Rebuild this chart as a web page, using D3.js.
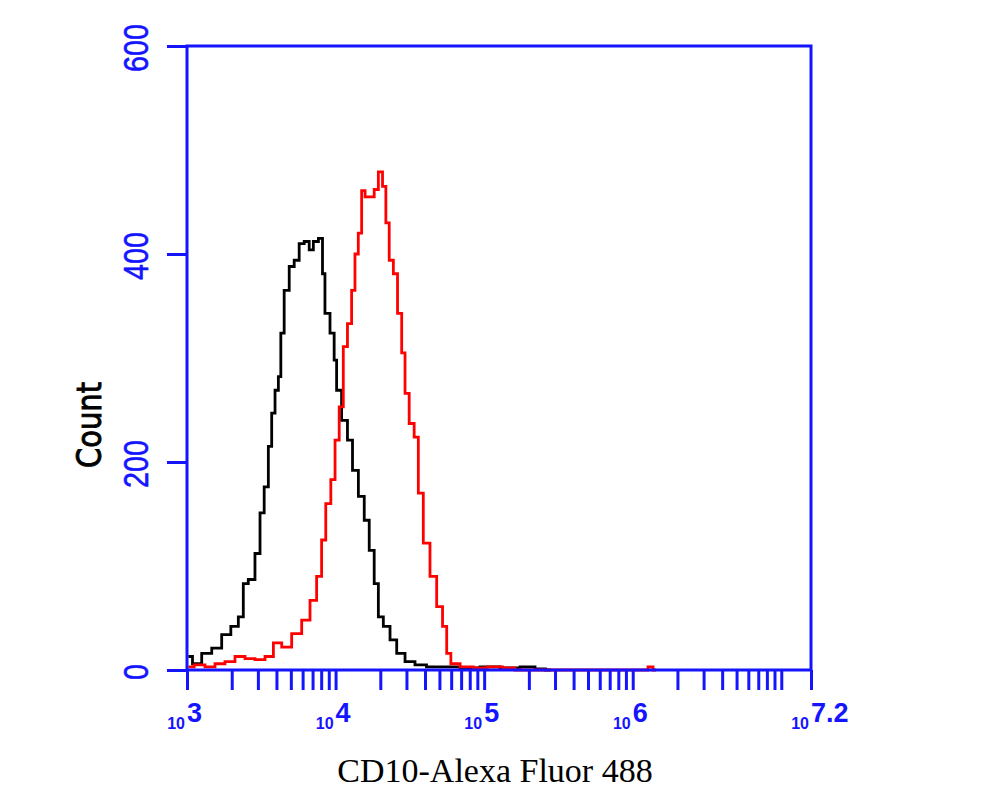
<!DOCTYPE html>
<html>
<head>
<meta charset="utf-8">
<script src="https://cdn.jsdelivr.net/npm/d3@7"></script>
<style>
  html, body { margin: 0; padding: 0; background: #fff; }
  svg { display: block; }
</style>
</head>
<body>
<svg id="chart" width="1000" height="800"></svg>
<script>
// ---- data (log10 of intensity, count) ----
const blackLog = [3.009,3.065,3.133,3.200,3.267,3.323,3.368,3.390,3.435,3.480,3.503,3.536,3.559,3.581,3.604,3.626,3.637,3.671,3.705,3.738,3.772,3.806,3.839,3.862,3.907,3.917,3.940,3.985,3.996,4.018,4.063,4.097,4.131,4.176,4.210,4.243,4.277,4.299,4.344,4.389,4.434,4.501,4.568,4.656,4.770,4.905,5.039,5.174,5.309,5.376,5.45];
const blackCount = [13,6,16,21,34,42,51,83,87,112,151,176,215,247,269,282,324,365,388,394,410,412,404,412,415,381,343,324,298,269,240,221,192,167,144,115,83,51,42,29,16,8,5,3,3,2,3,2,3,1,0];

const redLog = [3.009,3.087,3.155,3.222,3.289,3.357,3.424,3.491,3.559,3.604,3.671,3.738,3.806,3.850,3.895,3.917,3.951,3.985,4.008,4.041,4.063,4.097,4.119,4.142,4.164,4.187,4.210,4.243,4.277,4.299,4.333,4.344,4.378,4.400,4.434,4.456,4.479,4.512,4.546,4.568,4.613,4.658,4.703,4.737,4.759,4.793,4.883,4.972,5.073,5.174,5.241,6.09,6.116,6.157];
const redCount = [3,5,3,6,8,13,11,10,13,26,22,35,48,67,90,125,160,183,221,253,311,333,365,400,420,461,455,455,462,479,465,430,394,381,343,305,266,237,224,170,122,90,61,42,16,6,3,2,3,2,0,0,3,0];

const yTicks = [0, 200, 400, 600];
const xDecades = [3, 4, 5, 6];
const xLabelExps = ["3", "4", "5", "6", "7.2"];
const xTitle = "CD10-Alexa Fluor 488";
const yTitle = "Count";

// ---- layout ----
const svg = d3.select("#chart");
const mLeft = 187, mRight = 811, mTop = 46, mBottom = 670;
const blue = "#1414ff";

const x = d3.scaleLog().domain([1e3, Math.pow(10, 7.2)]).range([mLeft, mRight]);
const y = d3.scaleLinear().domain([0, 600]).range([mBottom, mTop]);

// curves
const line = d3.line()
  .x(d => x(Math.pow(10, d[0])))
  .y(d => y(d[1]))
  .curve(d3.curveStep);

const blackData = blackLog.map((l, i) => [l, blackCount[i]]);
const redData = redLog.map((l, i) => [l, redCount[i]]);

svg.append("path").datum(blackData)
  .attr("d", line).attr("fill", "none")
  .attr("stroke", "#000").attr("stroke-width", 2.8);
svg.append("path").datum(redData)
  .attr("d", line).attr("fill", "none")
  .attr("stroke", "#ff0000").attr("stroke-width", 2.8);

// x ticks
const xTickVals = [];
xDecades.forEach(d => { for (let m = 1; m <= 9; m++) xTickVals.push(m * Math.pow(10, d)); });
xTickVals.push(1e7);
xTickVals.push(Math.pow(10, 7.2));

const xAxis = svg.append("g")
  .attr("transform", `translate(0,${mBottom})`)
  .call(d3.axisBottom(x).tickValues(xTickVals).tickSize(20).tickFormat(""));
xAxis.select(".domain").remove();
xAxis.selectAll(".tick line").attr("stroke", blue).attr("stroke-width", 3);

// y ticks
const yAxis = svg.append("g")
  .attr("transform", `translate(${mLeft},0)`)
  .call(d3.axisLeft(y).tickValues(yTicks).tickSize(20).tickFormat(""));
yAxis.select(".domain").remove();
yAxis.selectAll(".tick line").attr("stroke", blue).attr("stroke-width", 3);

// frame
svg.append("rect")
  .attr("x", mLeft).attr("y", mTop)
  .attr("width", mRight - mLeft).attr("height", mBottom - mTop)
  .attr("fill", "none").attr("stroke", blue).attr("stroke-width", 3);

// x tick labels
const xLabelPos = xDecades.map(d => Math.pow(10, d)).concat([Math.pow(10, 7.2)]);
xLabelPos.forEach((v, i) => {
  const px = x(v);
  const g = svg.append("g").attr("fill", blue)
    .style("font-family", "'Liberation Sans', Arial, sans-serif").style("font-weight", "bold");
  g.append("text").attr("x", px - 2).attr("y", 729)
    .attr("text-anchor", "end").style("font-size", "16px").text("10");
  g.append("text").attr("x", px).attr("y", 722)
    .attr("text-anchor", "start").style("font-size", "27px").text(xLabelExps[i]);
});

// y tick labels
yTicks.forEach(t => {
  svg.append("text")
    .attr("transform", `translate(148,${y(t) + 2}) rotate(-90) scale(0.82,1)`)
    .attr("text-anchor", "middle")
    .attr("fill", blue)
    .attr("stroke", blue).attr("stroke-width", 0.6)
    .style("font-family", "'Liberation Sans', Arial, sans-serif")
    .style("font-size", "35px")
    .text(t);
});

// y title
svg.append("text")
  .attr("transform", `translate(101,425) rotate(-90) scale(1,1.18)`)
  .attr("text-anchor", "middle")
  .attr("fill", "#000")
  .attr("stroke", "#000").attr("stroke-width", 0.8)
  .style("font-family", "'DejaVu Sans', sans-serif")
  .style("font-size", "29px")
  .text(yTitle);

// x title
svg.append("text")
  .attr("x", 495).attr("y", 782)
  .attr("text-anchor", "middle")
  .attr("fill", "#000")
  .style("font-family", "'Liberation Serif', 'Times New Roman', serif")
  .style("font-size", "34px")
  .text(xTitle);
</script>
</body>
</html>
